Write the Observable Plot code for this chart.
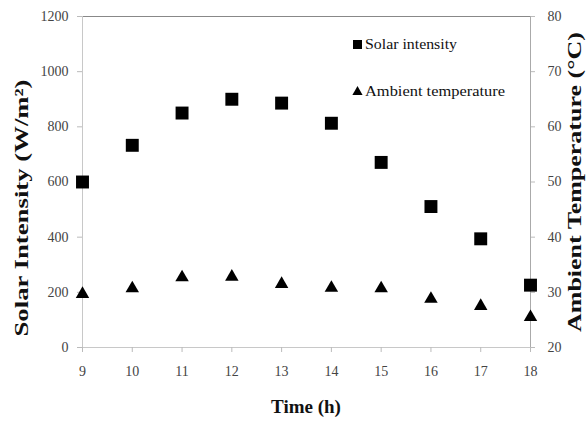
<!DOCTYPE html>
<html>
<head>
<meta charset="utf-8">
<script src="https://cdn.jsdelivr.net/npm/d3@7"></script>
<script src="https://cdn.jsdelivr.net/npm/@observablehq/plot@0.6"></script>
<style>
  html, body { margin: 0; padding: 0; background: #fff; }
  #chart { width: 586px; height: 422px; position: relative; }
</style>
</head>
<body>
<div id="chart"></div>
<script>
const hours = [9, 10, 11, 12, 13, 14, 15, 16, 17, 18];
const solar = [600, 733, 850, 900, 886, 813, 671, 511, 394, 226];
const temp = [29.7, 30.7, 32.7, 32.8, 31.5, 30.8, 30.7, 28.8, 27.5, 25.5];
const solarTicks = [0, 200, 400, 600, 800, 1000, 1200];
const tempTicks = [20, 30, 40, 50, 60, 70, 80];
const seriesNames = ["Solar intensity", "Ambient temperature"];

// map temperature (20..80) onto the left scale (0..1200)
const tToY = t => (t - 20) * 20;
const yToT = y => y / 20 + 20;

const solarData = hours.map((h, i) => ({h, v: solar[i]}));
const tempData = hours.map((h, i) => ({h, v: tToY(temp[i])}));

const font = "Liberation Serif, Times New Roman, serif";

const plot = Plot.plot({
  width: 586,
  height: 422,
  marginLeft: 82,
  marginRight: 56,
  marginTop: 16,
  marginBottom: 75,
  style: {fontFamily: font, fontSize: "14px", color: "#444", background: "#fff"},
  x: {domain: [9, 18]},
  y: {domain: [0, 1200]},
  marks: [
    Plot.frame({anchor: "top", stroke: "#888"}),
    Plot.ruleX([9], {stroke: "#c8c8c8"}),
    Plot.ruleX([18], {stroke: "#aaa"}),
    Plot.ruleY([0], {stroke: "#c8c8c8"}),
    Plot.axisX({ticks: hours, tickFormat: d => String(d), tickSize: 5, tickPadding: 14, label: null, stroke: "#bbb", fill: "#444"}),
    Plot.axisY({ticks: solarTicks, tickFormat: d => String(d), tickSize: 5, tickPadding: 9, label: null, stroke: "#bbb", fill: "#444"}),
    Plot.axisY({anchor: "right", ticks: tempTicks.map(tToY), tickFormat: d => String(yToT(d)), tickSize: 4, tickPadding: 13, label: null, stroke: "#bbb", fill: "#444"}),
    Plot.dot(tempData, {x: "h", y: "v", symbol: "triangle", r: 5, fill: "#000", stroke: "none"}),
    Plot.dot(solarData, {x: "h", y: "v", symbol: "square", r: 7.3, fill: "#000", stroke: "none"})
  ]
});

document.getElementById("chart").appendChild(plot);

const svg = d3.select(plot);

// axis titles
svg.append("text")
  .attr("transform", "translate(28,208) rotate(-90)")
  .attr("text-anchor", "middle")
  .attr("font-family", font)
  .attr("font-weight", "bold")
  .attr("font-size", 19)
  .attr("fill", "#111")
  .attr("textLength", 257)
  .attr("lengthAdjust", "spacingAndGlyphs")
  .text("Solar Intensity (W/m²)");

svg.append("text")
  .attr("transform", "translate(581,182) rotate(-90)")
  .attr("text-anchor", "middle")
  .attr("font-family", font)
  .attr("font-weight", "bold")
  .attr("font-size", 18)
  .attr("fill", "#111")
  .attr("textLength", 300)
  .attr("lengthAdjust", "spacingAndGlyphs")
  .text("Ambient Temperature (°C)");

svg.append("text")
  .attr("x", 306)
  .attr("y", 413)
  .attr("text-anchor", "middle")
  .attr("font-family", font)
  .attr("font-weight", "bold")
  .attr("font-size", 19)
  .attr("fill", "#111")
  .text("Time (h)");

// legend
const lg = svg.append("g").attr("font-family", font).attr("font-size", 15).attr("fill", "#111").attr("text-anchor", "start");
lg.append("rect").attr("x", 353).attr("y", 40).attr("width", 9).attr("height", 9).attr("fill", "#000");
lg.append("text").attr("x", 365).attr("y", 49).attr("text-anchor", "start").attr("textLength", 92).attr("lengthAdjust", "spacingAndGlyphs").text(seriesNames[0]);
lg.append("path").attr("d", d3.symbol(d3.symbolTriangle, 45)()).attr("transform", "translate(357.5,92)").attr("fill", "#000");
lg.append("text").attr("x", 365).attr("y", 96).attr("text-anchor", "start").attr("textLength", 140).attr("lengthAdjust", "spacingAndGlyphs").text(seriesNames[1]);
</script>
</body>
</html>
